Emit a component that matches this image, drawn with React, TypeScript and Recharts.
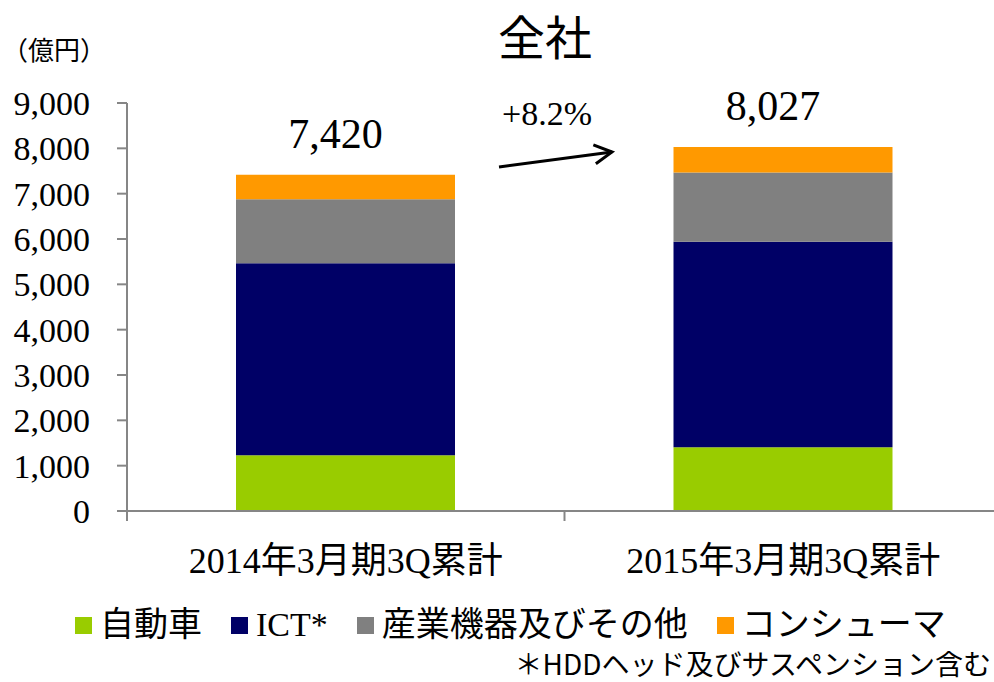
import { BarChart, Bar, XAxis, YAxis, Legend, LabelList } from "recharts";

const categories = ["2014年3月期3Q累計", "2015年3月期3Q累計"];
const automotive = [1230, 1407];
const ict = [4235, 4535];
const industrial = [1414, 1524];
const consumer = [541, 561];
const totals = [7420, 8027];
const yTicks = [0, 1000, 2000, 3000, 4000, 5000, 6000, 7000, 8000, 9000];

const series = [
  { key: "automotive", label: "自動車", color: "#99cc00" },
  { key: "ict", label: "ICT*", color: "#000066" },
  { key: "industrial", label: "産業機器及びその他", color: "#808080" },
  { key: "consumer", label: "コンシューマ", color: "#ff9900" },
];

// bars sit at the middle of each category band (0.5, 1.5); band edges are 0, 1, 2
const data = categories.map((name, i) => ({
  name,
  pos: i + 0.5,
  automotive: automotive[i],
  ict: ict[i],
  industrial: industrial[i],
  consumer: consumer[i],
}));
const xTicks = [0, 0.5, 1, 1.5, 2];

const numFont = "'Liberation Serif', 'Times New Roman', serif";
const serif = "'Liberation Serif', 'Noto Sans CJK JP', serif";
const sans = "'Noto Sans CJK JP', 'Noto Sans', sans-serif";
const axisGray = "#868686";

const CategoryTick = (props: any) => {
  const { x, y, payload } = props;
  const v = payload.value;
  if (Number.isInteger(v)) {
    return <line x1={x} y1={y} x2={x} y2={y + 10} stroke={axisGray} strokeWidth={2} />;
  }
  return (
    <text x={x} y={y + 62} textAnchor="middle" style={{ fontFamily: serif, fontSize: 36 }} fill="#000">
      {categories[Math.floor(v)]}
    </text>
  );
};

const TotalLabel = (props: any) => {
  const { x, y, width, index } = props;
  return (
    <text x={x + width / 2 - 10} y={y - 27} textAnchor="middle" style={{ fontFamily: numFont, fontSize: 42 }} fill="#000">
      {totals[index].toLocaleString("en-US")}
    </text>
  );
};

const LegendBox = () => (
  <div style={{ display: "flex", alignItems: "center", gap: "29px", fontFamily: serif, fontSize: "34px", color: "#000" }}>
    {series.map((s) => (
      <div key={s.key} style={{ display: "flex", alignItems: "center", gap: "8px" }}>
        <div style={{ width: "17px", height: "17px", background: s.color }} />
        <span style={{ lineHeight: "36px", whiteSpace: "nowrap" }}>{s.label}</span>
      </div>
    ))}
  </div>
);

// arrow annotation
const ax1 = 499, ay1 = 167, ax2 = 612, ay2 = 152;
const ang = Math.atan2(ay2 - ay1, ax2 - ax1);
const head = (sign: number) =>
  `${ax2 - 20 * Math.cos(ang + sign * 0.5)},${ay2 - 20 * Math.sin(ang + sign * 0.5)}`;

export default function App() {
  return (
    <div style={{ position: "absolute", left: 0, top: 0, width: 994, height: 682, overflow: "hidden", background: "white" }}>
      <BarChart
        width={1003}
        height={682}
        data={data}
        margin={{ top: 103, right: 1, bottom: 99, left: 0 }}
        barSize={219}
      >
        <XAxis
          type="number"
          dataKey="pos"
          domain={[0, 2]}
          ticks={xTicks}
          interval={0}
          height={72}
          tickLine={false}
          tickSize={0}
          tickMargin={0}
          tick={CategoryTick}
          stroke={axisGray}
          strokeWidth={2}
        />
        <YAxis
          width={127}
          domain={[0, 9000]}
          ticks={yTicks}
          interval={0}
          tickSize={10}
          tickMargin={27}
          stroke={axisGray}
          strokeWidth={2}
          tickFormatter={(v: number) => v.toLocaleString("en-US")}
          tick={{ style: { fontFamily: numFont, fontSize: 34 }, fill: "#000" }}
        />
        {series.map((s) => (
          <Bar key={s.key} dataKey={s.key} stackId="a" fill={s.color} isAnimationActive={false}>
            {s.key === "consumer" && <LabelList dataKey="consumer" content={TotalLabel} />}
          </Bar>
        ))}
        <Legend
          verticalAlign="middle"
          align="center"
          layout="horizontal"
          content={LegendBox}
          wrapperStyle={{ top: 607, left: 75, width: "auto" }}
        />
      </BarChart>
      <svg width={994} height={682} style={{ position: "absolute", left: 0, top: 0, pointerEvents: "none" }}>
        <text x={545} y={55} textAnchor="middle" fontFamily={sans} fontSize={47} fill="#000">全社</text>
        <text x={2} y={60} fontFamily={sans} fontSize={26} fill="#000">（億円）</text>
        <text x={502} y={125} style={{ fontFamily: numFont, fontSize: 34 }} fill="#000">+8.2%</text>
        <line x1={ax1} y1={ay1} x2={ax2} y2={ay2} stroke="#000" strokeWidth={3} />
        <polyline points={`${head(1)} ${ax2},${ay2} ${head(-1)}`} fill="none" stroke="#000" strokeWidth={3} />
        <text x={991} y={675} textAnchor="end" fontFamily={sans} fontSize={28} fill="#000">＊HDDヘッド及びサスペンション含む</text>
      </svg>
    </div>
  );
}
